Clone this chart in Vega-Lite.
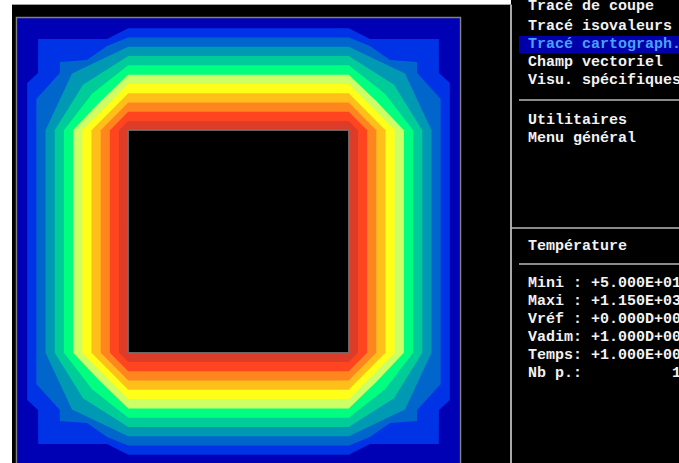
{
  "$schema": "https://vega.github.io/schema/vega-lite/v6.json",
  "background": "white",
  "padding": {"left": 12, "top": 0, "right": 0, "bottom": 0},
  "spacing": 0,
  "bounds": "flush",
  "config": {"view": {"stroke": null, "fill": "black"}},
  "datasets": {
    "contours": [
      {"k":1,"x":4.17,"yt":171.2,"yb":28.8},{"k":1,"x":9.1,"yt":175.7,"yb":24.3},{"k":1,"x":9.15,"yt":191,"yb":9},{"k":1,"x":40.4,"yt":191,"yb":9},{"k":1,"x":50,"yt":195.83,"yb":4.17},{"k":1,"x":150,"yt":195.83,"yb":4.17},{"k":1,"x":159.6,"yt":191,"yb":9},{"k":1,"x":190.85,"yt":191,"yb":9},{"k":1,"x":190.9,"yt":175.7,"yb":24.3},{"k":1,"x":195.83,"yt":171.2,"yb":28.8},
      {"k":2,"x":8.33,"yt":164,"yb":36},{"k":2,"x":19,"yt":175.7,"yb":24.3},{"k":2,"x":19.05,"yt":180.7,"yb":19.3},{"k":2,"x":31.3,"yt":181.6,"yb":18.4},{"k":2,"x":40.4,"yt":187.9,"yb":12.1},{"k":2,"x":50,"yt":191.67,"yb":8.33},{"k":2,"x":150,"yt":191.67,"yb":8.33},{"k":2,"x":159.6,"yt":187.9,"yb":12.1},{"k":2,"x":168.7,"yt":181.6,"yb":18.4},{"k":2,"x":180.95,"yt":180.7,"yb":19.3},{"k":2,"x":181,"yt":175.7,"yb":24.3},{"k":2,"x":191.67,"yt":164,"yb":36},
      {"k":3,"x":12.5,"yt":150,"yb":50},{"k":3,"x":24.5,"yt":175.5,"yb":24.5},{"k":3,"x":50,"yt":187.5,"yb":12.5},{"k":3,"x":150,"yt":187.5,"yb":12.5},{"k":3,"x":175.5,"yt":175.5,"yb":24.5},{"k":3,"x":187.5,"yt":150,"yb":50},
      {"k":4,"x":16.67,"yt":150,"yb":50},{"k":4,"x":29.5,"yt":170.5,"yb":29.5},{"k":4,"x":50,"yt":183.33,"yb":16.67},{"k":4,"x":150,"yt":183.33,"yb":16.67},{"k":4,"x":170.5,"yt":170.5,"yb":29.5},{"k":4,"x":183.33,"yt":150,"yb":50},
      {"k":5,"x":20.83,"yt":150,"yb":50},{"k":5,"x":33.6,"yt":166.4,"yb":33.6},{"k":5,"x":50,"yt":179.17,"yb":20.83},{"k":5,"x":150,"yt":179.17,"yb":20.83},{"k":5,"x":166.4,"yt":166.4,"yb":33.6},{"k":5,"x":179.17,"yt":150,"yb":50},
      {"k":6,"x":25,"yt":150,"yb":50},{"k":6,"x":37.2,"yt":162.8,"yb":37.2},{"k":6,"x":50,"yt":175,"yb":25},{"k":6,"x":150,"yt":175,"yb":25},{"k":6,"x":162.8,"yt":162.8,"yb":37.2},{"k":6,"x":175,"yt":150,"yb":50},
      {"k":7,"x":29.17,"yt":150,"yb":50},{"k":7,"x":50,"yt":170.83,"yb":29.17},{"k":7,"x":150,"yt":170.83,"yb":29.17},{"k":7,"x":170.83,"yt":150,"yb":50},
      {"k":8,"x":33.33,"yt":150,"yb":50},{"k":8,"x":50,"yt":166.67,"yb":33.33},{"k":8,"x":150,"yt":166.67,"yb":33.33},{"k":8,"x":166.67,"yt":150,"yb":50},
      {"k":9,"x":37.5,"yt":150,"yb":50},{"k":9,"x":50,"yt":162.5,"yb":37.5},{"k":9,"x":150,"yt":162.5,"yb":37.5},{"k":9,"x":162.5,"yt":150,"yb":50},
      {"k":10,"x":41.67,"yt":150,"yb":50},{"k":10,"x":50,"yt":158.33,"yb":41.67},{"k":10,"x":150,"yt":158.33,"yb":41.67},{"k":10,"x":158.33,"yt":150,"yb":50},
      {"k":11,"x":45.83,"yt":150,"yb":50},{"k":11,"x":50,"yt":154.17,"yb":45.83},{"k":11,"x":150,"yt":154.17,"yb":45.83},{"k":11,"x":154.17,"yt":150,"yb":50}
    ],
    "menu": [
      {"line":0,"label":"Tracé de coupe"},
      {"line":1,"label":"Tracé isovaleurs"},
      {"line":2,"label":"Tracé cartograph."},
      {"line":3,"label":"Champ vectoriel"},
      {"line":4,"label":"Visu. spécifiques"},
      {"line":6,"label":"Utilitaires"},
      {"line":7,"label":"Menu général"},
      {"line":13,"label":"Température"},
      {"line":15,"label":"Mini : +5.000E+01"},
      {"line":16,"label":"Maxi : +1.150E+03"},
      {"line":17,"label":"Vréf : +0.000D+00"},
      {"line":18,"label":"Vadim: +1.000D+00"},
      {"line":19,"label":"Temps: +1.000E+00"},
      {"line":20,"label":"Nb p.:\u00a0\u00a0\u00a0\u00a0\u00a0\u00a0\u00a0\u00a0\u00a0\u00a01"}
    ]
  },
  "hconcat": [
    {
      "width": 499,
      "height": 463,
      "layer": [
        {"data": {"values": [{}]}, "mark": {"type": "rect", "color": "#0000b4", "clip": true},
         "encoding": {"x": {"datum": -0.2, "type": "quantitative", "scale": {"domain": [-2.7211, 223.5828], "nice": false, "zero": false}, "axis": null}, "x2": {"datum": 200.2},
                      "y": {"datum": -2, "type": "quantitative", "scale": {"domain": [0.4494, 208.5393], "nice": false, "zero": false}, "axis": null}, "y2": {"datum": 200.4}}},
        {"data": {"name": "contours"}, "transform": [{"filter": "datum.k == 1"}], "mark": {"type": "area", "color": "#0033e6", "clip": true},
         "encoding": {"x": {"field": "x", "type": "quantitative", "scale": {"domain": [-2.7211, 223.5828], "nice": false, "zero": false}, "axis": null}, "y": {"field": "yt", "type": "quantitative", "scale": {"domain": [0.4494, 208.5393], "nice": false, "zero": false}, "axis": null}, "y2": {"field": "yb"}}},
        {"data": {"name": "contours"}, "transform": [{"filter": "datum.k == 2"}], "mark": {"type": "area", "color": "#0066cc", "clip": true},
         "encoding": {"x": {"field": "x", "type": "quantitative", "axis": null}, "y": {"field": "yt", "type": "quantitative", "axis": null}, "y2": {"field": "yb"}}},
        {"data": {"name": "contours"}, "transform": [{"filter": "datum.k == 3"}], "mark": {"type": "area", "color": "#0099b3", "clip": true},
         "encoding": {"x": {"field": "x", "type": "quantitative", "axis": null}, "y": {"field": "yt", "type": "quantitative", "axis": null}, "y2": {"field": "yb"}}},
        {"data": {"name": "contours"}, "transform": [{"filter": "datum.k == 4"}], "mark": {"type": "area", "color": "#00cc99", "clip": true},
         "encoding": {"x": {"field": "x", "type": "quantitative", "axis": null}, "y": {"field": "yt", "type": "quantitative", "axis": null}, "y2": {"field": "yb"}}},
        {"data": {"name": "contours"}, "transform": [{"filter": "datum.k == 5"}], "mark": {"type": "area", "color": "#00ff80", "clip": true},
         "encoding": {"x": {"field": "x", "type": "quantitative", "axis": null}, "y": {"field": "yt", "type": "quantitative", "axis": null}, "y2": {"field": "yb"}}},
        {"data": {"name": "contours"}, "transform": [{"filter": "datum.k == 6"}], "mark": {"type": "area", "color": "#ccff66", "clip": true},
         "encoding": {"x": {"field": "x", "type": "quantitative", "axis": null}, "y": {"field": "yt", "type": "quantitative", "axis": null}, "y2": {"field": "yb"}}},
        {"data": {"name": "contours"}, "transform": [{"filter": "datum.k == 7"}], "mark": {"type": "area", "color": "#ffff1a", "clip": true},
         "encoding": {"x": {"field": "x", "type": "quantitative", "axis": null}, "y": {"field": "yt", "type": "quantitative", "axis": null}, "y2": {"field": "yb"}}},
        {"data": {"name": "contours"}, "transform": [{"filter": "datum.k == 8"}], "mark": {"type": "area", "color": "#ffbf1a", "clip": true},
         "encoding": {"x": {"field": "x", "type": "quantitative", "axis": null}, "y": {"field": "yt", "type": "quantitative", "axis": null}, "y2": {"field": "yb"}}},
        {"data": {"name": "contours"}, "transform": [{"filter": "datum.k == 9"}], "mark": {"type": "area", "color": "#ff851e", "clip": true},
         "encoding": {"x": {"field": "x", "type": "quantitative", "axis": null}, "y": {"field": "yt", "type": "quantitative", "axis": null}, "y2": {"field": "yb"}}},
        {"data": {"name": "contours"}, "transform": [{"filter": "datum.k == 10"}], "mark": {"type": "area", "color": "#ff4420", "clip": true},
         "encoding": {"x": {"field": "x", "type": "quantitative", "axis": null}, "y": {"field": "yt", "type": "quantitative", "axis": null}, "y2": {"field": "yb"}}},
        {"data": {"name": "contours"}, "transform": [{"filter": "datum.k == 11"}], "mark": {"type": "area", "color": "#dc3c28", "clip": true},
         "encoding": {"x": {"field": "x", "type": "quantitative", "axis": null}, "y": {"field": "yt", "type": "quantitative", "axis": null}, "y2": {"field": "yb"}}},
        {"data": {"values": [{}]}, "mark": {"type": "rect", "fill": "black", "stroke": "#808080", "strokeWidth": 1},
         "encoding": {"x": {"datum": 50, "type": "quantitative"}, "x2": {"datum": 150}, "y": {"datum": 50, "type": "quantitative"}, "y2": {"datum": 150}}},
        {"data": {"values": [{}]}, "mark": {"type": "rect", "filled": false, "stroke": "#808080", "strokeWidth": 1.5, "clip": true},
         "encoding": {"x": {"datum": -0.68, "type": "quantitative"}, "x2": {"datum": 200.68}, "y": {"datum": -5, "type": "quantitative"}, "y2": {"datum": 200.67}}},
        {"data": {"values": [{}]}, "mark": {"type": "rect", "color": "white", "clip": true},
         "encoding": {"x": {"datum": -2.7211, "type": "quantitative"}, "x2": {"datum": 223.5828}, "y": {"datum": 206.74, "type": "quantitative"}, "y2": {"datum": 208.5393}}},
        {"data": {"values": [{}]}, "mark": {"type": "rule", "color": "#a0a0a0", "strokeWidth": 1.2, "clip": true},
         "encoding": {"x": {"datum": -2.7211, "type": "quantitative"}, "x2": {"datum": 223.5828}, "y": {"datum": 206.52, "type": "quantitative"}}}
      ]
    },
    {
      "width": 168,
      "height": 463,
      "layer": [
        {"data": {"values": [{}]}, "mark": {"type": "rect", "color": "#0000aa", "clip": true},
         "encoding": {"x": {"datum": -1, "type": "quantitative", "scale": {"domain": [-1.8889, 16.7778], "nice": false, "zero": false}, "axis": null}, "x2": {"datum": 16.7778},
                      "y": {"datum": 1.3333, "type": "quantitative", "scale": {"domain": [-0.6667, 25.0556], "nice": false, "zero": false, "reverse": true}, "axis": null}, "y2": {"datum": 2.2778}}},
        {"data": {"name": "menu"}, "transform": [{"filter": "datum.line == 0"}],
         "mark": {"type": "text", "align": "left", "baseline": "alphabetic", "font": "Liberation Mono", "fontWeight": "bold", "fontSize": 15, "dy": -2, "clip": true, "color": "#f2f2f2"},
         "encoding": {"x": {"datum": 0, "type": "quantitative"}, "y": {"field": "line", "type": "quantitative"}, "text": {"field": "label"}}},
        {"data": {"name": "menu"}, "transform": [{"filter": "datum.line >= 1 && datum.line <= 4"}],
         "mark": {"type": "text", "align": "left", "baseline": "alphabetic", "font": "Liberation Mono", "fontWeight": "bold", "fontSize": 15, "clip": true},
         "encoding": {"x": {"datum": 0, "type": "quantitative"}, "y": {"field": "line", "type": "quantitative"}, "text": {"field": "label"},
                      "color": {"condition": {"test": "datum.line == 2", "value": "#4aa0ff"}, "value": "#f2f2f2"}}},
        {"data": {"name": "menu"}, "transform": [{"filter": "datum.line >= 6 && datum.line <= 13"}],
         "mark": {"type": "text", "align": "left", "baseline": "alphabetic", "font": "Liberation Mono", "fontWeight": "bold", "fontSize": 15, "dy": 4, "clip": true, "color": "#f2f2f2"},
         "encoding": {"x": {"datum": 0, "type": "quantitative"}, "y": {"field": "line", "type": "quantitative"}, "text": {"field": "label"}}},
        {"data": {"name": "menu"}, "transform": [{"filter": "datum.line >= 15"}],
         "mark": {"type": "text", "align": "left", "baseline": "alphabetic", "font": "Liberation Mono", "fontWeight": "bold", "fontSize": 15, "dy": 5.5, "clip": true, "color": "#f2f2f2"},
         "encoding": {"x": {"datum": 0, "type": "quantitative"}, "y": {"field": "line", "type": "quantitative"}, "text": {"field": "label"}}},
        {"data": {"values": [{}]}, "mark": {"type": "rule", "color": "#a8a8a8", "strokeWidth": 2},
         "encoding": {"x": {"datum": -1.8889, "type": "quantitative"}, "y": {"datum": -0.4167, "type": "quantitative"}, "y2": {"datum": 25.0556}}},
        {"data": {"values": [{}]}, "mark": {"type": "rule", "color": "#b8b8b8", "strokeWidth": 1.5, "clip": true},
         "encoding": {"x": {"datum": -1, "type": "quantitative"}, "x2": {"datum": 16.7778}, "y": {"datum": 4.8889, "type": "quantitative"}}},
        {"data": {"values": [{}]}, "mark": {"type": "rule", "color": "#b8b8b8", "strokeWidth": 1.5, "clip": true},
         "encoding": {"x": {"datum": -1.8889, "type": "quantitative"}, "x2": {"datum": 16.7778}, "y": {"datum": 12, "type": "quantitative"}}},
        {"data": {"values": [{}]}, "mark": {"type": "rule", "color": "#b8b8b8", "strokeWidth": 1.5, "clip": true},
         "encoding": {"x": {"datum": -1, "type": "quantitative"}, "x2": {"datum": 16.7778}, "y": {"datum": 14, "type": "quantitative"}}}
      ]
    }
  ]
}
